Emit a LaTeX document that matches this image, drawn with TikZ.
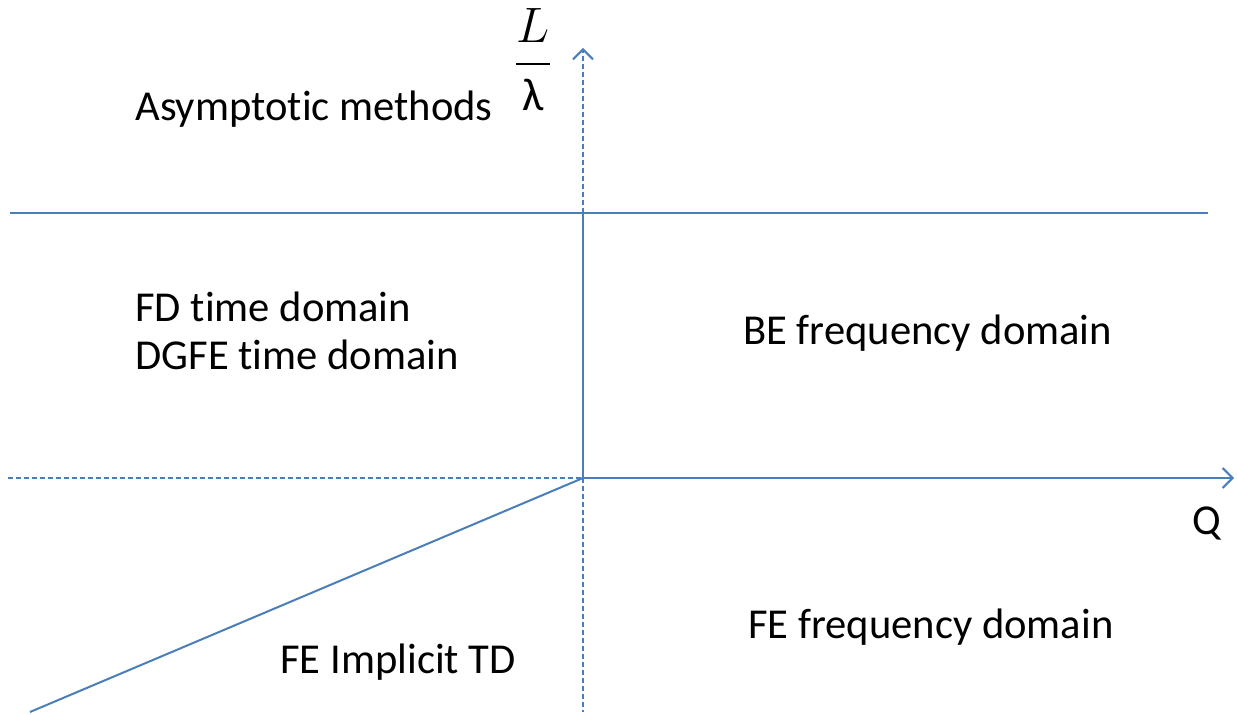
\documentclass[tikz,border=0pt]{standalone}
\usepackage{amsmath}
\usepackage{fontspec}
\setmainfont{Carlito}[Ligatures=NoCommon]
\usepackage{tikz}
\usetikzlibrary{arrows.meta}

\definecolor{axisblue}{HTML}{4A7EBB}

\begin{document}
\begin{tikzpicture}[x=0.5pt,y=-0.5pt,
   ax/.style={draw=axisblue,line width=1pt},
   dsh/.style={ax,dash pattern=on 2.5pt off 1.5pt},
   tip/.style={-{Straight Barb[length=5pt,width=10pt]}},
   lbl/.style={anchor=base west,inner sep=0pt,font=\fontsize{21.3}{25}\selectfont}]
   \useasboundingbox (0,0) rectangle (1237,715);

   \coordinate (O)   at (583,478);
   \coordinate (top) at (583,48);
   \coordinate (mid) at (583,213);
   \coordinate (bot) at (583,712);
   \coordinate (hl)  at (10,213);
   \coordinate (hr)  at (1208,213);
   \coordinate (xl)  at (8,478);
   \coordinate (xr)  at (1234,478);
   \coordinate (dg)  at (30,712);

   \node[lbl] (asym) at (135,121) {Asymptotic methods};
   \node[lbl] (fd)   at (135,322) {FD time domain};
   \node[lbl] (dgfe) at (135,370) {DGFE time domain};
   \node[lbl] (be)   at (743,345) {BE frequency domain};
   \node[lbl] (fef)  at (748,639) {FE frequency domain};
   \node[lbl] (feit) at (280,674) {FE Implicit TD};
   \node[lbl] (q)    at (1192,535) {Q};
   \node[inner sep=0pt,font=\fontsize{23}{27}\selectfont] (ll) at (533,60) {$\dfrac{L}{\text{λ}}$};

   \path[dsh,tip] (mid) -- (top);
   \path[ax] (O) -- (mid);
   \path[dsh] (O) -- (bot);
   \path[ax] (hl) -- (hr);
   \path[dsh] (xl) -- (O);
   \path[ax,tip] (O) -- (xr);
   \path[ax] (O) -- (dg);
\end{tikzpicture}
\end{document}
